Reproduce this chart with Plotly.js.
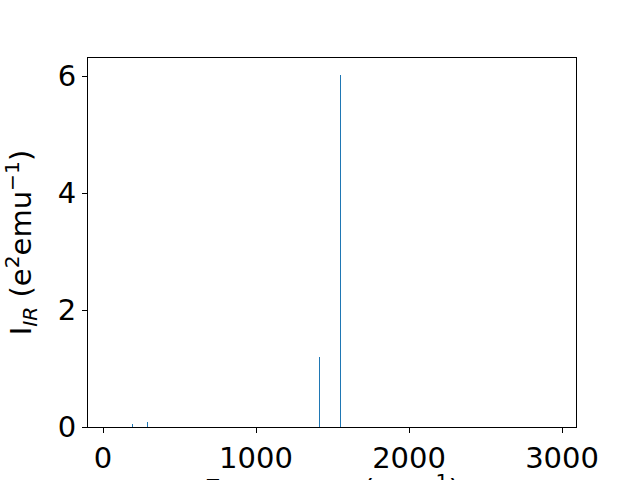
<!DOCTYPE html>
<html>
<head>
<meta charset="utf-8">
<script src="https://cdn.plot.ly/plotly-3.0.1.min.js"></script>
<style>html,body{margin:0;padding:0;background:#fff;}#chart{width:640px;height:480px;}</style>
</head>
<body>
<div id="chart"></div>
<script>
const frequencies = [190, 288, 1414, 1551];
const intensities = [0.05, 0.085, 1.20, 6.02];
const xTickVals = [0, 1000, 2000, 3000];
const yTickVals = [0, 2, 4, 6];
const xTitle = 'Frequency (cm<sup>−1</sup>)';
const yTitle = 'I<sub><i>IR</i></sub> (e<sup>2</sup>emu<sup>−1</sup>)';

const trace = {
  type: 'bar',
  x: frequencies,
  y: intensities,
  width: 7,
  marker: {color: '#1f77b4', line: {width: 0}},
  hoverinfo: 'x+y'
};

const font = {family: 'DejaVu Sans, sans-serif', size: 29, color: '#000'};

const layout = {
  width: 640, height: 480,
  margin: {l: 88, r: 64, t: 58, b: 53},
  paper_bgcolor: '#fff', plot_bgcolor: '#fff',
  showlegend: false,
  bargap: 0,
  font: font,
  xaxis: {
    range: [-98, 3091],
    tickvals: xTickVals,
    ticks: 'outside', ticklen: 5, tickwidth: 1, tickcolor: '#000',
    showline: true, linecolor: '#000', linewidth: 1, mirror: true,
    showgrid: false, zeroline: false,
    tickfont: font,
    automargin: false
  },
  yaxis: {
    range: [0, 6.31],
    tickvals: yTickVals,
    ticks: 'outside', ticklen: 5, tickwidth: 1, tickcolor: '#000',
    showline: true, linecolor: '#000', linewidth: 1, mirror: true,
    showgrid: false, zeroline: false,
    tickfont: font,
    title: {text: yTitle, font: font},
    automargin: false
  },
  annotations: [{
    text: xTitle, xref: 'paper', yref: 'paper', x: 0.5, y: 0,
    xanchor: 'center', yanchor: 'top', yshift: -40, showarrow: false,
    font: font
  }]
};

Plotly.newPlot('chart', [trace], layout, {displayModeBar: false, staticPlot: true});
</script>
</body>
</html>
